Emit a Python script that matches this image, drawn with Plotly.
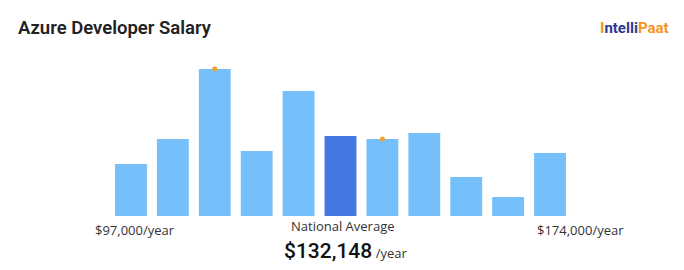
import plotly.graph_objects as go

bins = list(range(11))
counts = [52, 77, 147, 65, 125, 80, 77, 83, 39, 19, 63]
highlight = 5
marker_bins = [2, 6]
title = "Azure Developer Salary"
low_label = "$97,000/year"
high_label = "$174,000/year"
avg_caption = "National Average"
avg_value = "$132,148"

light = "#75C0FB"
dark = "#4479E3"
colors = [dark if i == highlight else light for i in bins]

fig = go.Figure()
fig.add_trace(go.Bar(x=bins, y=counts, marker=dict(color=colors, line=dict(width=0)),
                     hoverinfo="skip"))
fig.add_trace(go.Scatter(x=marker_bins, y=[counts[i] for i in marker_bins], mode="markers",
                         marker=dict(color="#F0A030", size=5), hoverinfo="skip"))

W, H = 684, 270
PL, PR, PT, PB = 110, 113, 60, 54
fig.update_layout(
    width=W, height=H,
    margin=dict(l=PL, r=PR, t=PT, b=PB),
    paper_bgcolor="white", plot_bgcolor="white",
    showlegend=False, bargap=0.24,
    xaxis=dict(range=[-0.5, 10.5], visible=False, fixedrange=True),
    yaxis=dict(range=[0, 156], visible=False, fixedrange=True),
)

def ann_px(text, px, py, size, color="#333", family="Open Sans", xanchor="center", weight="normal"):
    xw = W - PL - PR
    yh = H - PT - PB
    fig.add_annotation(text=text, x=(px - PL) / xw, y=(H - PB - py) / yh,
                       xref="paper", yref="paper", xanchor=xanchor, yanchor="middle",
                       showarrow=False, font=dict(size=size, color=color, family=family, weight=weight))

ann_px(title, 16, 28, 18.5, "#222", "Roboto", "left", weight=600)
ann_px(low_label, 135, 230, 13, "#333")
ann_px(high_label, 580, 230, 13, "#333")
ann_px(avg_caption, 343, 226, 13, "#333")
ann_px(avg_value + "<span style='font-size:13px;font-weight:400;font-family:Open Sans;fill:#333'> /year</span>",
       345, 251, 21, "#111", "Roboto", weight=500)
ann_px("<b><span style='color:#F7941D'>I</span><span style='color:#2B3990'>ntelli</span>"
       "<span style='color:#F7941D'>Paat</span></b>", 634, 28, 15, "#2B3990", "Roboto")

fig.write_html("out.html")
